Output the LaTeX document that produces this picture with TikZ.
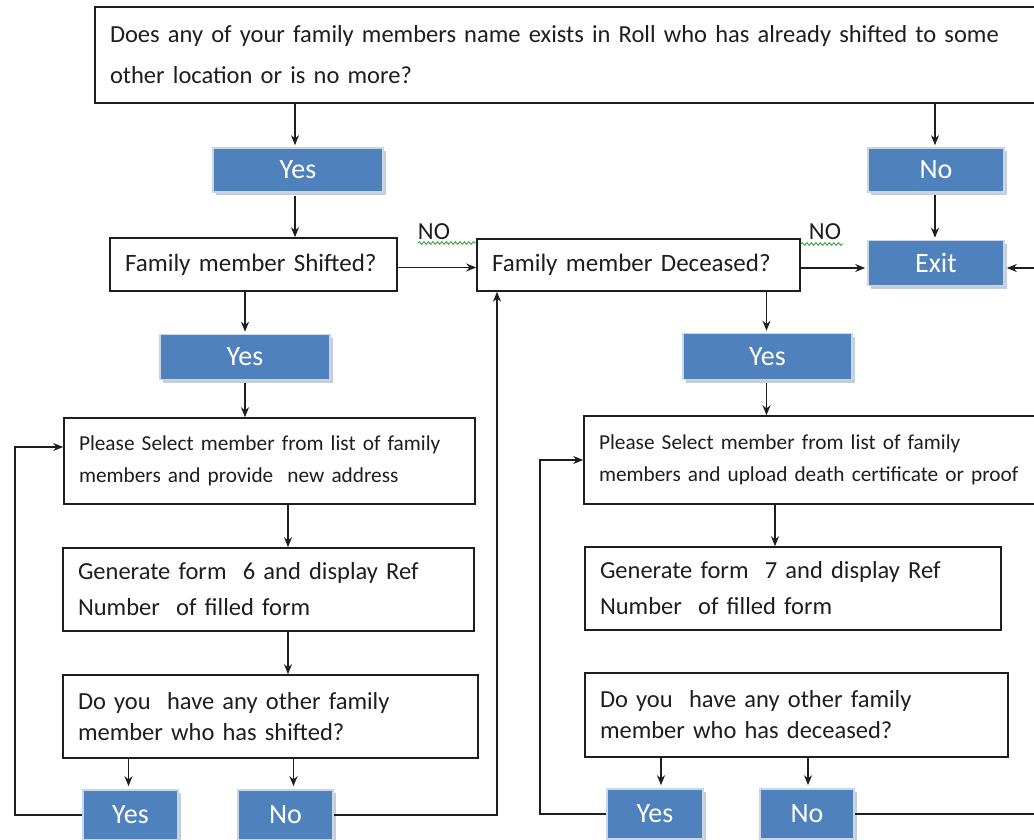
\documentclass[tikz,border=0pt]{standalone}
\usepackage{fontspec}
\setmainfont{Carlito}
\usetikzlibrary{arrows.meta,calc,shadows,decorations.pathmorphing}
\definecolor{bluebox}{HTML}{4F81BD}
\definecolor{bluerim}{HTML}{C9D5E8}
\definecolor{shade}{HTML}{AEB8C4}
\definecolor{ink}{HTML}{1E1E1E}
\definecolor{wavy}{HTML}{3BA33B}
\begin{document}
\begin{tikzpicture}[x=1pt,y=-1pt,
  txt/.style={draw=ink, line width=1.6pt, fill=white, text=ink, align=left,
    inner xsep=15pt, inner ysep=0pt},
  bluebtn/.style={fill=bluebox, draw=bluerim, line width=1.6pt, text=white,
    font=\fontsize{28}{30}\selectfont, inner sep=0pt,
    drop shadow={shadow xshift=3pt, shadow yshift=-3pt, fill=shade, opacity=0.7}},
  arr/.style={draw=ink, line width=1.5pt, -{Stealth[length=10pt,width=8pt]}},
  nolabel/.style={text=ink, font=\fontsize{24.5}{26}\selectfont, inner sep=0pt},
  squiggle/.style={draw=wavy, line width=0.9pt,
    decorate, decoration={snake, amplitude=1.3pt, segment length=4.5pt}}
]
\useasboundingbox (0,0) rectangle (1034,840);
\fill[white] (0,0) rectangle (1034,840);
\clip (0,0) rectangle (1034,840);

% top question
\node[txt, minimum width=950pt, minimum height=96pt, text width=920pt,
  font=\fontsize{24.5}{41}\selectfont] (q0) at (570,55)
  {Does any of your family members name exists in Roll who has already shifted to some\\other location or is no more?};

\node[bluebtn, minimum width=170pt, minimum height=44pt] (yes1) at (298,170) {Yes};
\node[bluebtn, minimum width=136pt, minimum height=44pt] (no1) at (936,170) {No};
\node[bluebtn, minimum width=136pt, minimum height=45pt] (exit) at (936,263) {Exit};

\node[txt, minimum width=287pt, minimum height=53pt, text width=257pt,
  font=\fontsize{25}{28}\selectfont] (shifted) at (253.5,264.5) {Family member Shifted?};
\node[txt, minimum width=323pt, minimum height=52pt, text width=293pt,
  font=\fontsize{25}{28}\selectfont] (deceased) at (638.5,265) {Family member Deceased?};

\node[bluebtn, minimum width=170pt, minimum height=45pt] (yes2) at (245,357) {Yes};
\node[bluebtn, minimum width=169pt, minimum height=46pt] (yes4) at (767.5,356.5) {Yes};

% left column
\node[txt, minimum width=411pt, minimum height=86pt, text width=381pt,
  font=\fontsize{21.3}{32}\selectfont] (sel1) at (269.5,461)
  {Please Select member from list of family\\members and provide\ \ new address};
\node[txt, minimum width=411pt, minimum height=83pt, text width=381pt,
  font=\fontsize{24.5}{36}\selectfont] (gen1) at (268.5,589.5)
  {Generate form\ \ 6 and display Ref\\Number\ \ of filled form};
\node[txt, minimum width=415pt, minimum height=83pt, text width=385pt,
  font=\fontsize{24.5}{31}\selectfont] (ask1) at (270.5,716.5)
  {Do you\ \ have any other family\\member who has shifted?};
\node[bluebtn, minimum width=95pt, minimum height=50pt] (yes3) at (130.5,815) {Yes};
\node[bluebtn, minimum width=95pt, minimum height=50pt] (no3) at (285.5,815) {No};

% right column
\node[txt, minimum width=461pt, minimum height=88pt, text width=431pt,
  font=\fontsize{21.3}{32}\selectfont] (sel2) at (814.5,460)
  {Please Select member from list of family\\members and upload death certificate or proof};
\node[txt, minimum width=416pt, minimum height=83pt, text width=386pt,
  font=\fontsize{24.5}{36}\selectfont] (gen2) at (793,588.5)
  {Generate form\ \ 7 and display Ref\\Number\ \ of filled form};
\node[txt, minimum width=423pt, minimum height=84pt, text width=393pt,
  font=\fontsize{24.5}{31}\selectfont] (ask2) at (796.5,715)
  {Do you\ \ have any other family\\member who has deceased?};
\node[bluebtn, minimum width=96pt, minimum height=50pt] (yes5) at (655,814) {Yes};
\node[bluebtn, minimum width=94pt, minimum height=50pt] (no5) at (807,814) {No};

% NO labels
\node[nolabel] (nol1) at (434,232) {NO};
\node[nolabel] (nol2) at (825,232) {NO};
\coordinate (w1a) at (418,243); \coordinate (w1b) at (476,243);
\coordinate (w2a) at (801,244); \coordinate (w2b) at (843,244);
\draw[squiggle] (w1a) -- (w1b);
\draw[squiggle] (w2a) -- (w2b);

% helper coordinates
\coordinate (l1) at (15,447);
\coordinate (l2) at (540,460);
\coordinate (d1) at (497,0);
\coordinate (rr) at (1045,0);

% connectors
\draw[arr] ($(q0.south -| yes1.north)+(-3,0)$) -- ($(yes1.north)+(-3,-2)$);
\draw[arr] ($(q0.south -| no1.north)+(-1,0)$) -- ($(no1.north)+(-1,-2)$);
\draw[arr] ($(no1.south)+(-1,2)$) -- ($(exit.north)+(-1,-2)$);
\draw[arr] ($(yes1.south)+(-3,3)$) -- ($(yes1.south |- shifted.north)+(-3,0)$);
\draw[arr] ($(shifted.east)+(0,3)$) -- ($(shifted.east -| deceased.west)+(0,3)$);
\draw[arr] ($(deceased.east)+(0,3)$) -- ($(deceased.east -| exit.west)+(-2,3)$);
\draw[arr] ($(shifted.south -| yes2.north)$) -- ($(yes2.north)+(0,-2)$);
\draw[arr] ($(yes2.south)+(0,3)$) -- (yes2.south |- sel1.north);
\draw[arr] ($(sel1.south)+(18.5,0)$) -- ($(sel1.south |- gen1.north)+(18.5,0)$);
\draw[arr] ($(gen1.south)+(19.5,0)$) -- ($(gen1.south |- ask1.north)+(19.5,0)$);
\draw[arr] ($(ask1.south -| yes3.north)+(-2,0)$) -- ($(yes3.north)+(-2,-3)$);
\draw[arr] ($(ask1.south -| no3.north)+(8,0)$) -- ($(no3.north)+(8,-3)$);
\draw[arr] (yes3.west) -| (l1) -- (l1 -| sel1.west);
\draw[arr] (no3.east) -- (no3.east -| d1) -- (d1 |- deceased.south);

\draw[arr] ($(deceased.south -| yes4.north)+(-1,0)$) -- ($(yes4.north)+(-1,-2)$);
\draw[arr] ($(yes4.south)+(-1,3)$) -- ($(yes4.south |- sel2.north)+(-1,0)$);
\draw[arr] ($(gen2.north |- sel2.south)+(-18,0)$) -- ($(gen2.north)+(-18,0)$);
\draw[arr] ($(ask2.south -| yes5.north)+(6,0)$) -- ($(yes5.north)+(6,-3)$);
\draw[arr] ($(ask2.south -| no5.north)+(1,0)$) -- ($(no5.north)+(1,-3)$);
\draw[arr] (yes5.west) -| (l2) -- (l2 -| sel2.west);
\draw[arr] (no5.east) -- (no5.east -| rr) |- ($(exit.east)+(2,5)$);
\end{tikzpicture}
\end{document}
